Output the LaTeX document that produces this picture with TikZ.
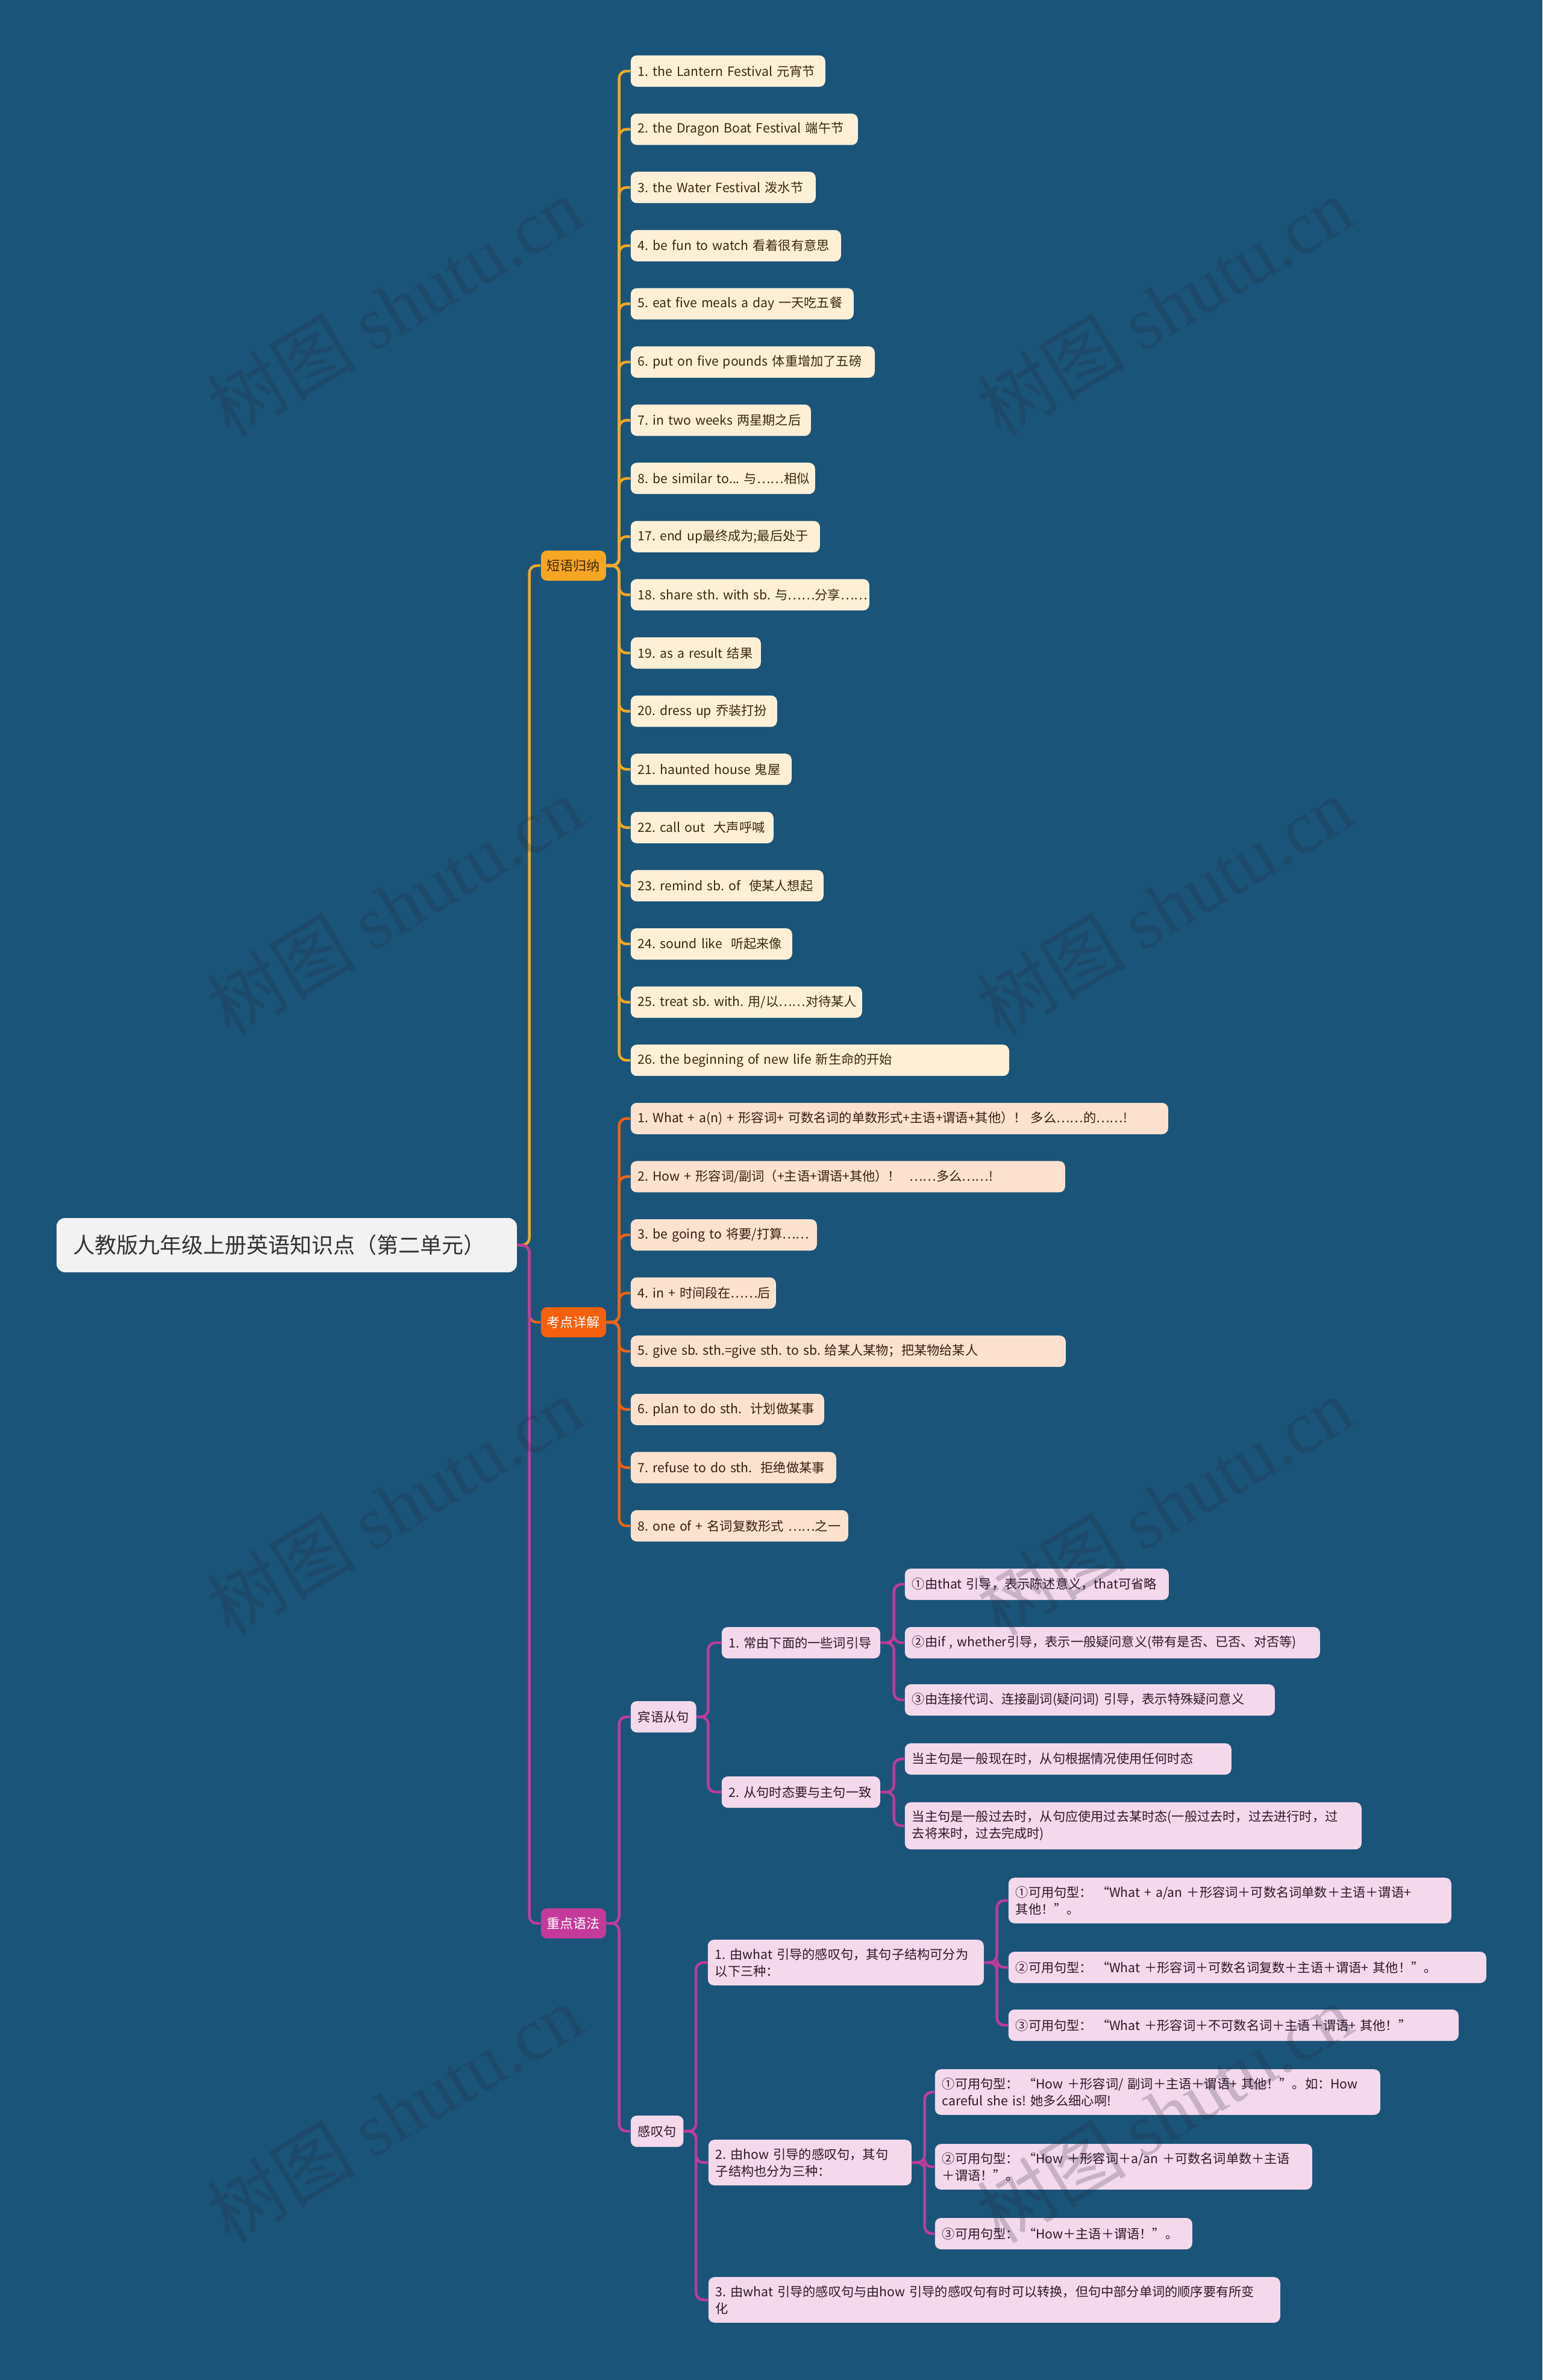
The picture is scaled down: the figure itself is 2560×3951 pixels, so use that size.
\documentclass[tikz,border=0pt]{standalone}
\usepackage{fontspec}
\setmainfont{Noto Sans CJK SC}
\newfontfamily\wmserif{Liberation Serif}
\frenchspacing
\hyphenpenalty=10000
\exhyphenpenalty=10000
\definecolor{bgc}{RGB}{26,84,121}
\definecolor{rootfill}{RGB}{242,242,242}
\definecolor{roottext}{RGB}{51,51,51}
\definecolor{lineA}{RGB}{240,168,40}
\definecolor{tagfillA}{RGB}{245,166,35}
\definecolor{fillA}{RGB}{254,240,215}
\definecolor{textA}{RGB}{62,40,10}
\definecolor{lineB}{RGB}{236,100,22}
\definecolor{tagfillB}{RGB}{246,96,12}
\definecolor{fillB}{RGB}{253,225,207}
\definecolor{textB}{RGB}{55,30,15}
\definecolor{lineC}{RGB}{190,60,155}
\definecolor{tagfillC}{RGB}{196,58,155}
\definecolor{fillC}{RGB}{244,216,236}
\definecolor{textC}{RGB}{45,25,40}
\definecolor{wmc}{RGB}{40,40,60}
\tikzset{
    box/.style={anchor=west, rounded corners=2.5pt, inner xsep=3pt, inner ysep=3.5pt,
        minimum height=13pt, align=left, font=\fontsize{5.3pt}{7pt}\selectfont},
    leafA/.style={box, fill=fillA, text=textA},
    leafB/.style={box, fill=fillB, text=textB},
    leafC/.style={box, fill=fillC, text=textC},
    tag/.style={anchor=west, rounded corners=2.5pt, inner xsep=2.5pt, minimum height=12.5pt,
        font=\fontsize{5.5pt}{7pt}\selectfont},
    lnA/.style={draw=lineA, line width=1.1pt, rounded corners=3pt},
    lnB/.style={draw=lineB, line width=1.1pt, rounded corners=3pt},
    lnC/.style={draw=lineC, line width=1.1pt, rounded corners=3pt},
    wmark/.style={rotate=31, text=wmc, opacity=0.22, font=\fontsize{31pt}{31pt}\selectfont}
}
\begin{document}
\begin{tikzpicture}[x=0.25pt, y=-0.25pt]
    \useasboundingbox (0,0) rectangle (2560,3951);
    \fill[bgc] (0,0) rectangle (2560,3951);

    % root and main branches
    \node[anchor=west, fill=rootfill, text=roottext, rounded corners=3.5pt, inner xsep=7pt,
        minimum height=22.5pt, text width=177pt, font=\fontsize{9pt}{11pt}\selectfont]
        (title) at (93,2067) {人教版九年级上册英语知识点（第二单元）};
    \node[tag, fill=tagfillA, text=textA] (phrase) at (897,939) {短语归纳};
    \node[tag, fill=tagfillB, text=white] (keys) at (897,2195) {考点详解};
    \node[tag, fill=tagfillC, text=white] (gram) at (897,3193) {重点语法};

    % 短语归纳
    \node[leafA, text width=74.75pt] (ph1) at (1046,118) {1. the Lantern Festival 元宵节};
    \node[leafA, text width=88.25pt] (ph2) at (1046,214.6) {2. the Dragon Boat Festival 端午节};
    \node[leafA, text width=70.75pt] (ph3) at (1046,311.2) {3. the Water Festival 泼水节};
    \node[leafA, text width=81.25pt] (ph4) at (1046,407.8) {4. be fun to watch 看着很有意思};
    \node[leafA, text width=86.5pt] (ph5) at (1046,504.4) {5. eat five meals a day 一天吃五餐};
    \node[leafA, text width=95.25pt] (ph6) at (1046,601) {6. put on five pounds 体重增加了五磅};
    \node[leafA, text width=68.75pt] (ph7) at (1046,697.6) {7. in two weeks 两星期之后};
    \node[leafA, text width=70.5pt] (ph8) at (1046,794.2) {8.~be~similar~to...~与……相似};
    \node[leafA, text width=72.5pt] (ph17) at (1046,890.8) {17. end up最终成为;最后处于};
    \node[leafA, text width=93pt] (ph18) at (1046,987.4) {18.~share~sth.~with~sb.~与……分享……};
    \node[leafA, text width=48pt] (ph19) at (1046,1084) {19. as a result 结果};
    \node[leafA, text width=54.75pt] (ph20) at (1046,1180.6) {20. dress up 乔装打扮};
    \node[leafA, text width=60.75pt] (ph21) at (1046,1277.2) {21. haunted house 鬼屋};
    \node[leafA, text width=53.25pt] (ph22) at (1046,1373.8) {22. call out\ \ 大声呼喊};
    \node[leafA, text width=74pt] (ph23) at (1046,1470.4) {23. remind sb. of\ \ 使某人想起};
    \node[leafA, text width=61pt] (ph24) at (1046,1567) {24. sound like\ \ 听起来像};
    \node[leafA, text width=90pt] (ph25) at (1046,1663.6) {25.~treat~sb.~with.~用/以……对待某人};
    \node[leafA, text width=151pt] (ph26) at (1046,1760.2) {26. the beginning of new life 新生命的开始};

    % 考点详解
    \node[leafB, text width=217pt] (kd1) at (1046,1856.8) {1. What + a(n) + 形容词+ 可数名词的单数形式+主语+谓语+其他）！ 多么……的……!};
    \node[leafB, text width=174.25pt] (kd2) at (1046,1953.4) {2. How + 形容词/副词（+主语+谓语+其他）！\ \ ……多么……!};
    \node[leafB, text width=71.25pt] (kd3) at (1046,2050) {3.~be~going~to~将要/打算……};
    \node[leafB, text width=54.25pt] (kd4) at (1046,2146.6) {4.~in~+~时间段在……后};
    \node[leafB, text width=174.5pt] (kd5) at (1046,2243.2) {5. give sb. sth.=give sth. to sb. 给某人某物；把某物给某人};
    \node[leafB, text width=74.25pt] (kd6) at (1046,2339.8) {6. plan to do sth.\ \ 计划做某事};
    \node[leafB, text width=79.25pt] (kd7) at (1046,2436.4) {7. refuse to do sth.\ \ 拒绝做某事};
    \node[leafB, text width=84.25pt] (kd8) at (1046,2533) {8.~one~of~+~名词复数形式~……之一};

    % 重点语法
    \node[leafC] (bin) at (1046,2850) {宾语从句};
    \node[leafC, text width=59.75pt] (cy1) at (1197,2727) {1. 常由下面的一些词引导};
    \node[leafC, text width=59.75pt] (cy2) at (1197,2975) {2. 从句时态要与主句一致};
    \node[leafC, text width=103.5pt] (t1) at (1501,2630) {①由that 引导，表示陈述意义，that可省略};
    \node[leafC, text width=166.25pt] (t2) at (1501,2727) {②由if , whether引导，表示一般疑问意义(带有是否、已否、对否等)};
    \node[leafC, text width=147.5pt] (t3) at (1501,2822) {③由连接代词、连接副词(疑问词) 引导，表示特殊疑问意义};
    \node[leafC, text width=129.5pt] (s1) at (1501,2920) {当主句是一般现在时，从句根据情况使用任何时态};
    \node[leafC, text width=183.5pt] (s2) at (1501,3031) {当主句是一般过去时，从句应使用过去某时态(一般过去时，过去进行时，过\\去将来时，过去完成时)};
    \node[leafC] (gan) at (1046,3538) {感叹句};
    \node[leafC, text width=108.5pt] (w0) at (1174,3258) {1. 由what 引导的感叹句，其句子结构可分为\\以下三种：};
    \node[leafC, text width=177.75pt] (w1) at (1673,3155) {①可用句型： “What + a/an ＋形容词＋可数名词单数＋主语＋谓语+\\其他！”。};
    \node[leafC, text width=192.25pt] (w2) at (1673,3266) {②可用句型： “What ＋形容词＋可数名词复数＋主语＋谓语+ 其他！”。};
    \node[leafC, text width=180.75pt] (w3) at (1673,3362) {③可用句型： “What ＋形容词＋不可数名词＋主语＋谓语+ 其他！”};
    \node[leafC, text width=78.25pt] (h0) at (1175,3590) {2. 由how 引导的感叹句，其句\\子结构也分为三种：};
    \node[leafC, text width=178.75pt] (h1) at (1551,3473) {①可用句型： “How ＋形容词/ 副词＋主语＋谓语+ 其他！”。如：How\\careful she is! 她多么细心啊!};
    \node[leafC, text width=150.5pt] (h2) at (1551,3597) {②可用句型： “How ＋形容词＋a/an ＋可数名词单数＋主语\\＋谓语！”。};
    \node[leafC, text width=100.75pt] (h3) at (1551,3708) {③可用句型： “How＋主语＋谓语！”。};
    \node[leafC, text width=231.25pt] (e3) at (1175,3818) {3. 由what 引导的感叹句与由how 引导的感叹句有时可以转换，但句中部分单词的顺序要有所变\\化};

    % connectors
    \draw[lnA] (title.east) -- ++(20,0) |- (phrase.west);
    \draw[lnB] (title.east) -- ++(20,0) |- (keys.west);
    \draw[lnC] (title.east) -- ++(20,0) |- (gram.west);
    \foreach \n in {ph1,ph2,ph3,ph4,ph5,ph6,ph7,ph8,ph17,ph18,ph19,ph20,ph21,ph22,ph23,ph24,ph25,ph26}
        \draw[lnA] (phrase.east) -- ++(21,0) |- (\n.west);
    \foreach \n in {kd1,kd2,kd3,kd4,kd5,kd6,kd7,kd8}
        \draw[lnB] (keys.east) -- ++(21,0) |- (\n.west);
    \draw[lnC] (gram.east) -- ++(21,0) |- (bin.west);
    \draw[lnC] (gram.east) -- ++(21,0) |- (gan.west);
    \draw[lnC] (bin.east) -- ++(19,0) |- (cy1.west);
    \draw[lnC] (bin.east) -- ++(19,0) |- (cy2.west);
    \foreach \n in {t1,t2,t3}
        \draw[lnC] (cy1.east) -- ++(22,0) |- (\n.west);
    \foreach \n in {s1,s2}
        \draw[lnC] (cy2.east) -- ++(22,0) |- (\n.west);
    \foreach \n in {w0,h0,e3}
        \draw[lnC] (gan.east) -- ++(20,0) |- (\n.west);
    \foreach \n in {w1,w2,w3}
        \draw[lnC] (w0.east) -- ++(21,0) |- (\n.west);
    \foreach \n in {h1,h2,h3}
        \draw[lnC] (h0.east) -- ++(21,0) |- (\n.west);

    % watermarks
    \node[wmark] (wm1) at (655,509) {树图 {\wmserif shutu.cn}};
    \node[wmark] (wm2) at (1933,509) {树图 {\wmserif shutu.cn}};
    \node[wmark] (wm3) at (655,1504) {树图 {\wmserif shutu.cn}};
    \node[wmark] (wm4) at (1933,1504) {树图 {\wmserif shutu.cn}};
    \node[wmark] (wm5) at (655,2500) {树图 {\wmserif shutu.cn}};
    \node[wmark] (wm6) at (1933,2500) {树图 {\wmserif shutu.cn}};
    \node[wmark] (wm7) at (655,3508) {树图 {\wmserif shutu.cn}};
    \node[wmark] (wm8) at (1933,3508) {树图 {\wmserif shutu.cn}};
\end{tikzpicture}
\end{document}
